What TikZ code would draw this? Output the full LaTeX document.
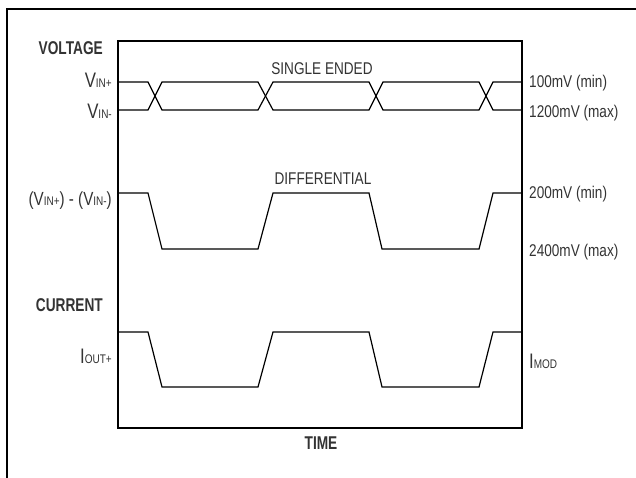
\documentclass[tikz,border=0pt]{standalone}
\usepackage{fontspec}
\setmainfont{Liberation Sans}[FakeStretch=0.8, BoldFeatures={FakeStretch=0.74}]
\newcommand{\subtxt}[1]{{\fontsize{12.5}{14}\selectfont #1}}

\begin{document}
\begin{tikzpicture}[
  x=1pt, y=-1pt,
  every node/.style = {inner sep=0pt, text=black!80,
    font=\fontsize{17}{20}\selectfont},
  leftlbl/.style = {anchor=base east, font=\fontsize{21}{24}\selectfont},
  rightlbl/.style = {anchor=base west},
  headlbl/.style = {anchor=base east, font=\fontsize{18.5}{22}\selectfont\bfseries},
  wave/.style = {line width=1.2pt, line join=miter}
  ]
  \useasboundingbox (0,0) rectangle (636,478);
  % outer frame
  \draw[line width=2pt] (7,478) -- (7,9) -- (636,9);
  % plot box
  \draw[line width=1.2pt] (118,41) coordinate (tl) rectangle (522,428) coordinate (br);

  % single ended
  \draw[wave] (118,82) -- (148,82) -- (162,110) -- (258,110) -- (273,82) -- (369,82)
    -- (383,110) -- (479,110) -- (493,82) -- (522,82);
  \draw[wave] (118,110) -- (148,110) -- (162,82) -- (258,82) -- (273,110) -- (369,110)
    -- (383,82) -- (479,82) -- (493,110) -- (522,110);
  % differential
  \draw[wave] (118,193) -- (148,193) -- (162,249) -- (258,249) -- (273,193) -- (369,193)
    -- (382,249) -- (479,249) -- (493,193) -- (522,193);
  % current
  \draw[wave] (118,332) -- (148,332) -- (162,387) -- (258,387) -- (273,332) -- (369,332)
    -- (382,387) -- (479,387) -- (493,332) -- (522,332);

  % left labels
  \node[headlbl] (volt) at (103,55) {VOLTAGE};
  \node[headlbl] (curr) at (103,311) {CURRENT};
  \node[leftlbl] (vinp) at (112,88) {V\subtxt{IN+}};
  \node[leftlbl] (vinm) at (112,119) {V\subtxt{IN-}};
  \node[leftlbl, font=\fontsize{19}{22}\selectfont] (vdiff) at (112,205)
    {(V\subtxt{IN+}) - (V\subtxt{IN-})};
  \node[leftlbl] (iout) at (112,363) {I\subtxt{OUT+}};

  % titles
  \node[anchor=base] (single) at (322,75) {SINGLE ENDED};
  \node[anchor=base] (diff) at (323,185) {DIFFERENTIAL};
  \node[anchor=base, font=\fontsize{18.5}{22}\selectfont\bfseries] (time) at (321,449) {TIME};

  % right labels
  \node[rightlbl] (min1) at (529,88) {100mV (min)};
  \node[rightlbl] (max1) at (529,118) {1200mV (max)};
  \node[rightlbl] (min2) at (529,199) {200mV (min)};
  \node[rightlbl] (max2) at (529,256) {2400mV (max)};
  \node[rightlbl, font=\fontsize{21}{24}\selectfont] (imod) at (529,368) {I\subtxt{MOD}};
\end{tikzpicture}
\end{document}
